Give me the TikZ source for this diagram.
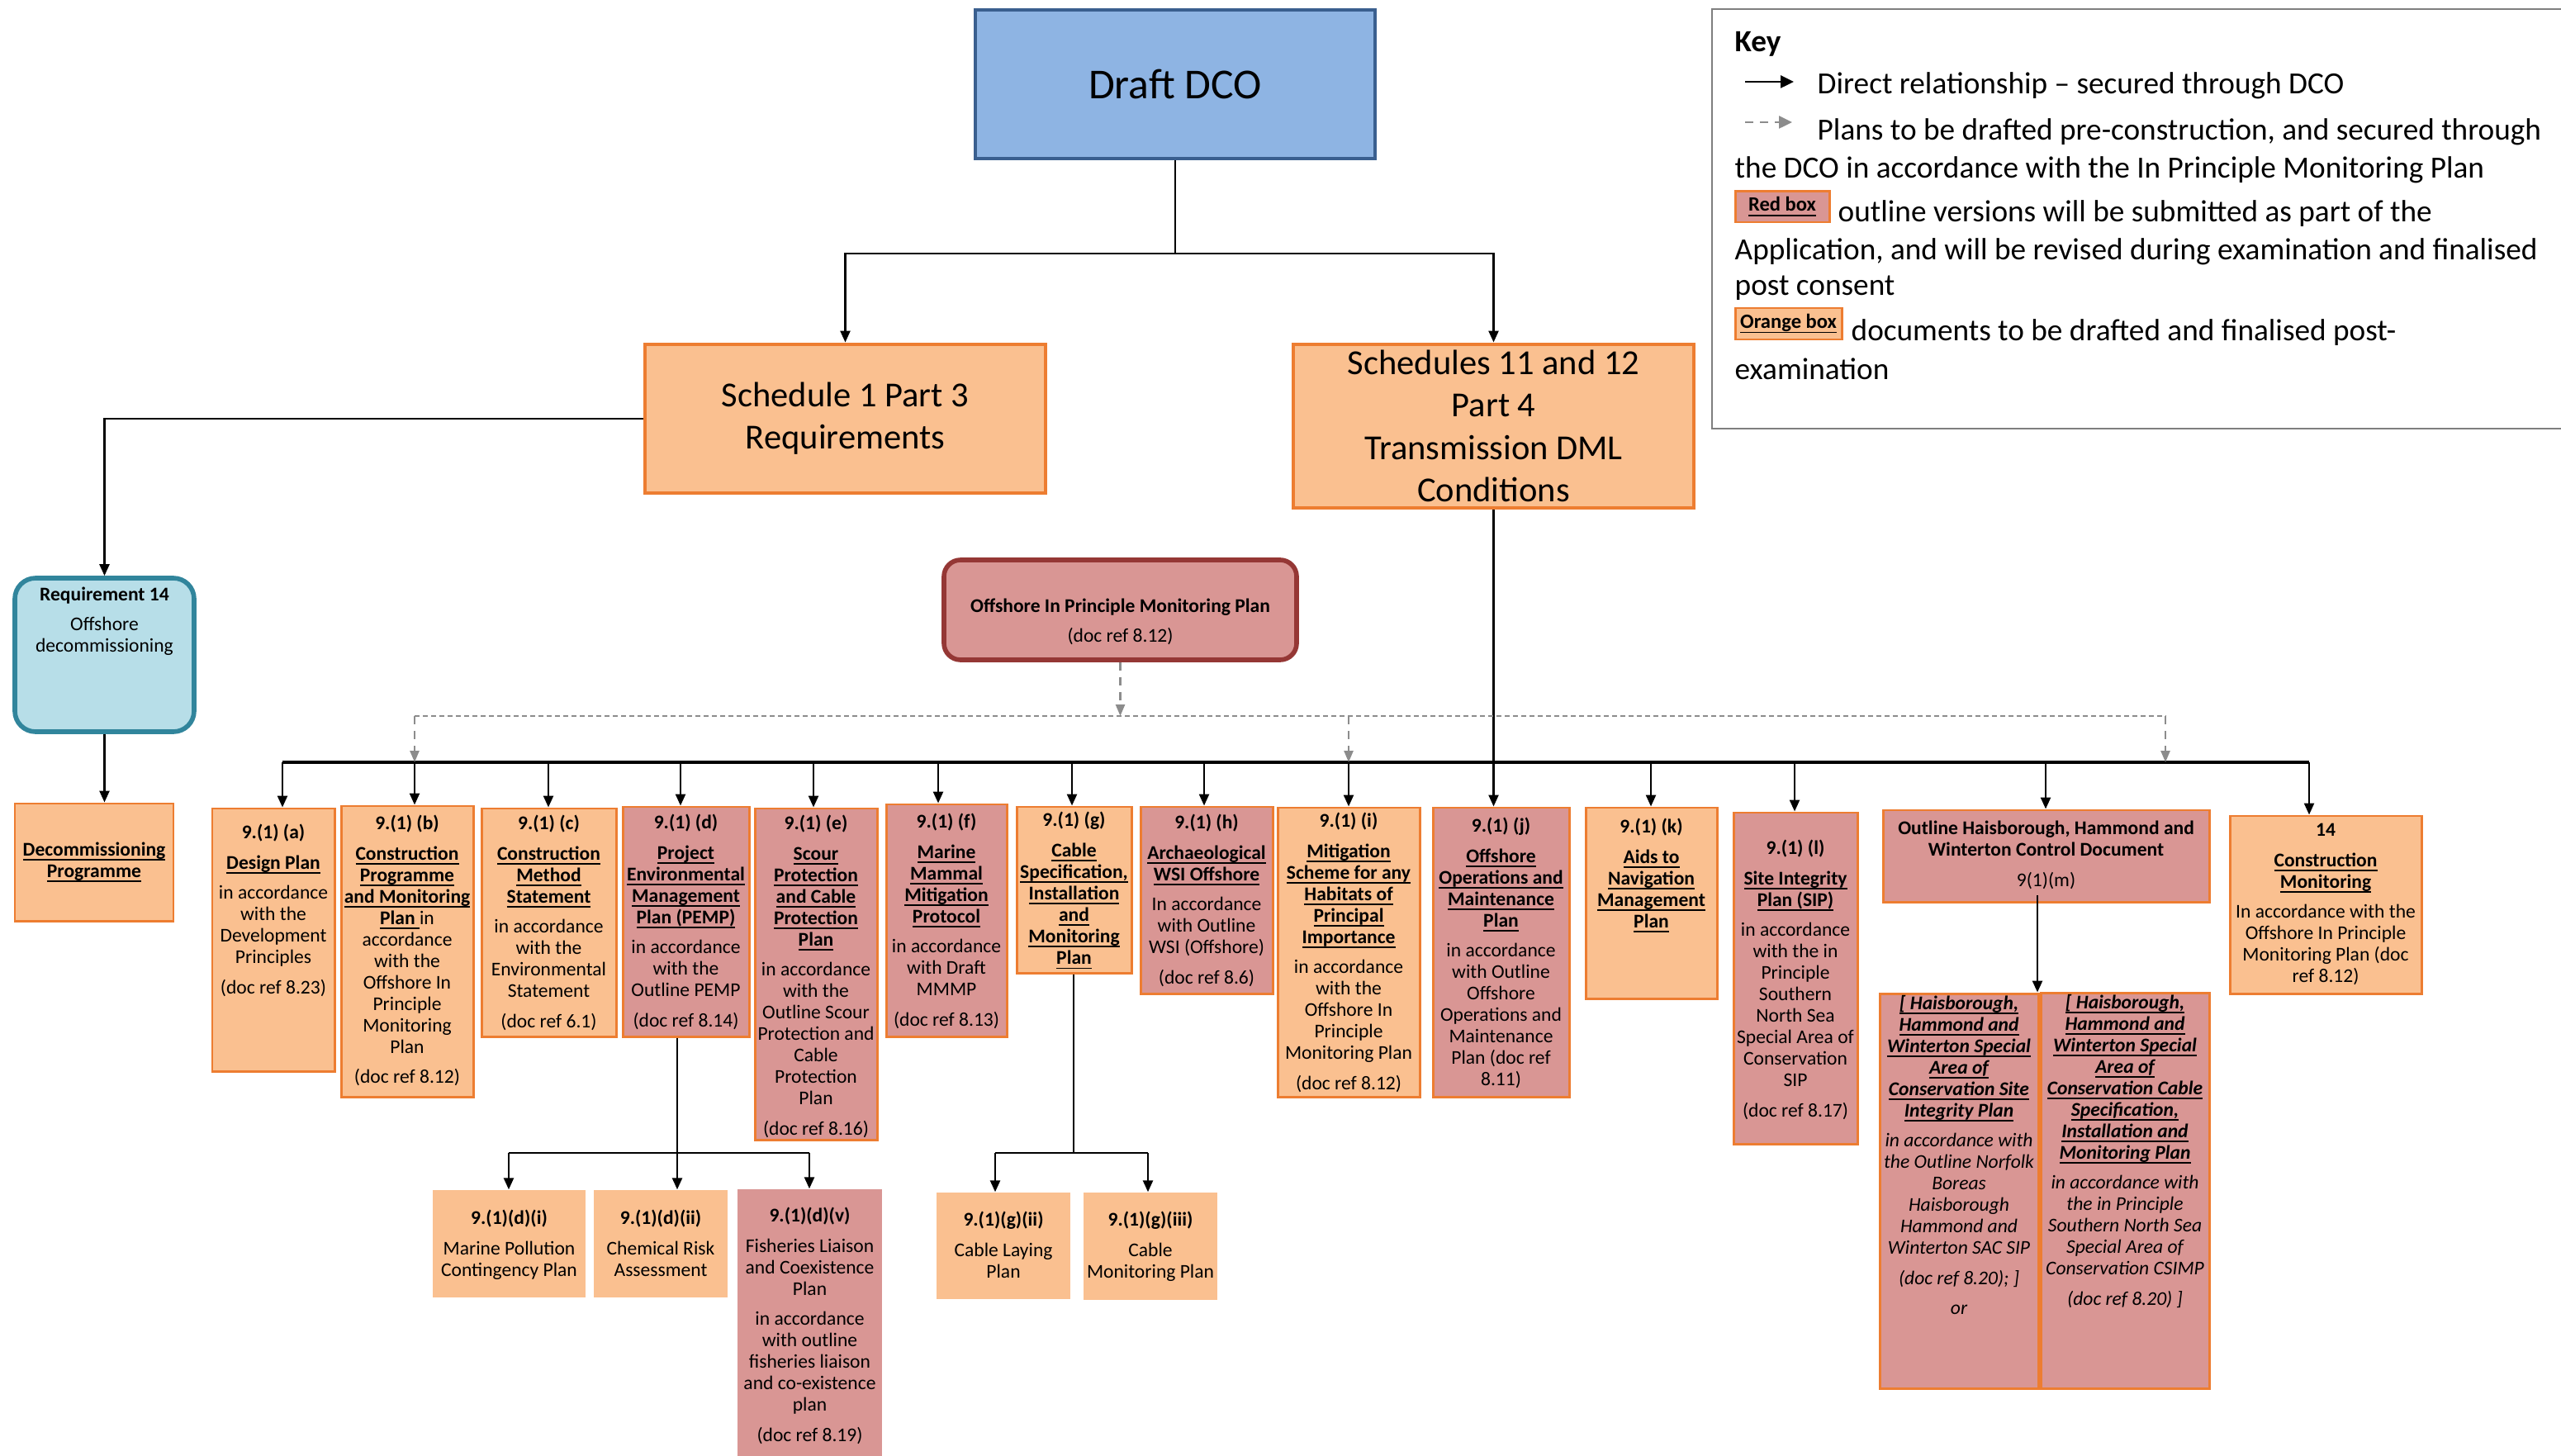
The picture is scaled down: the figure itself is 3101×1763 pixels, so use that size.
\documentclass[tikz,border=0pt]{standalone}
\usepackage{fontspec}
\setmainfont{Carlito}
\usetikzlibrary{positioning,fit,arrows.meta}

\definecolor{orangefill}{HTML}{FAC090}
\definecolor{redfill}{HTML}{D99694}
\definecolor{boxedge}{HTML}{ED7D31}
\definecolor{dcofill}{HTML}{8EB4E3}
\definecolor{dcoedge}{HTML}{3A5F8F}
\definecolor{reqfill}{HTML}{B7DEE8}
\definecolor{reqedge}{HTML}{31859C}
\definecolor{oipmpedge}{HTML}{953735}
\definecolor{dashgray}{HTML}{8C8C8C}
\definecolor{keyedge}{HTML}{7F7F7F}

\newcommand{\boxfont}{\fontsize{6.7}{7.4}\selectfont}
\newcommand{\keyfont}{\fontsize{10.6}{12.6}\selectfont}
\newcommand{\uln}[1]{\underline{\smash{#1}}}
\newcommand{\hd}[1]{\textbf{\uln{#1}}}

\tikzset{
  box/.style={inner sep=0pt, line width=0.85pt, draw=boxedge},
  obox/.style={box, fill=orangefill},
  rbox/.style={box, fill=redfill},
  osoft/.style={inner sep=0pt, fill=orangefill},
  rsoft/.style={inner sep=0pt, fill=redfill},
  bigbox/.style={inner sep=0pt, line width=1.4pt, draw=boxedge, fill=orangefill},
  bigtxt/.style={inner sep=0pt, align=center, font=\fontsize{12.1}{14.6}\selectfont},
  txt/.style={inner sep=0pt, align=center, font=\boxfont},
  itxt/.style={txt, font=\boxfont\itshape},
  keytxt/.style={inner sep=0pt, font=\keyfont},
  tagtxt/.style={inner sep=0pt, font=\fontsize{7}{8}\selectfont, yshift=-0.9mm},
  link/.style={line width=0.7pt},
  arr/.style={link, -{Triangle[length=1.4mm,width=1.2mm]}},
  dlink/.style={line width=0.7pt, dashgray, dash pattern=on 1mm off 0.8mm},
  darr/.style={dlink, -{Triangle[length=1.4mm,width=1.1mm]}},
}

\begin{document}
\begin{tikzpicture}[x=0.1mm, y=-0.1mm]

  \fill[white] (0,0) rectangle (3101,1763);
  \useasboundingbox (0,0) rectangle (3101,1763);

  % top of the tree
  \node[fit={(1181,12) (1665,192)}, inner sep=0pt, line width=1.2pt, draw=dcoedge,
        fill=dcofill] (dco) {};
  \node[inner sep=0pt, font=\fontsize{14.7}{17}\selectfont] (dco-t) at (dco) {Draft DCO};
  \node[bigbox, fit={(781,417) (1266,597)}] (sch1) {};
  \node[bigtxt] (sch1-t) at (sch1) {Schedule 1 Part 3\\Requirements};
  \node[bigbox, fit={(1566,417) (2051,615)}] (sch11) {};
  \node[bigtxt] (sch11-t) at (sch11) {Schedules 11 and 12\\Part 4\\Transmission DML\\Conditions};

  \node[fit={(18,700) (235,886)}, inner sep=0pt, rounded corners=2.5mm,
        line width=1.6pt, draw=reqedge, fill=reqfill] (req14) {};
  \node[txt, below=1.3mm of req14.north] (req14-t)
       {\textbf{Requirement 14}\\[3pt] Offshore\\decommissioning};
  \node[obox, fit={(18,973) (210,1115)}] (decom) {};
  \node[txt, below=6.4mm of decom.north] (decom-t) {\hd{Decommissioning}\\\hd{Programme}};

  \node[fit={(1143,678) (1570,799)}, inner sep=0pt, rounded corners=2mm,
        line width=1.6pt, draw=oipmpedge, fill=redfill] (oipmp) {};
  \node[txt, below=4.9mm of oipmp.north] (oipmp-t)
       {\textbf{Offshore In Principle Monitoring Plan}\\[3pt] (doc ref 8.12)};

  % plans under the bus
  \node[obox, fit={(257,979) (405,1297)}] (pa) {};
  \node[txt, below=2mm of pa.north] (pa-t) {\textbf{9.(1) (a)}\\[3pt] \hd{Design Plan}\\[3pt]
       in accordance\\with the\\Development\\Principles\\[3pt] (doc ref 8.23)};
  \node[obox, fit={(413,976) (573,1328)}] (pb) {};
  \node[txt, below=1.2mm of pb.north] (pb-t) {\textbf{9.(1) (b)}\\[3pt] \hd{Construction}\\
       \hd{Programme}\\\hd{and Monitoring}\\\textbf{\uln{Plan\ }}in\\accordance\\with the\\
       Offshore In\\Principle\\Monitoring\\Plan\\[3pt] (doc ref 8.12)};
  \node[obox, fit={(583,979) (746,1255)}] (pc) {};
  \node[txt, below=0.9mm of pc.north] (pc-t) {\textbf{9.(1) (c)}\\[3pt] \hd{Construction}\\
       \hd{Method}\\\hd{Statement}\\[3pt] in accordance\\with the\\Environmental\\Statement\\[3pt]
       (doc ref 6.1)};
  \node[rbox, fit={(754,977) (907,1255)}] (pd) {};
  \node[txt, below=1mm of pd.north] (pd-t) {\textbf{9.(1) (d)}\\[3pt] \hd{Project}\\
       \hd{Environmental}\\\hd{Management}\\\hd{Plan (PEMP)}\\[3pt] in accordance\\with the\\
       Outline PEMP\\[3pt] (doc ref 8.14)};
  \node[rbox, fit={(914,979) (1062,1380)}] (pe) {};
  \node[txt, below=0.9mm of pe.north] (pe-t) {\textbf{9.(1) (e)}\\[3pt] \hd{Scour}\\
       \hd{Protection}\\\hd{and Cable}\\\hd{Protection}\\\hd{Plan}\\[3pt] in accordance\\with the\\
       Outline Scour\\Protection and\\Cable\\Protection\\Plan\\[3pt] (doc ref 8.16)};
  \node[rbox, fit={(1073,974) (1219,1255)}] (pf) {};
  \node[txt, below=1.2mm of pf.north] (pf-t) {\textbf{9.(1) (f)}\\[3pt] \hd{Marine}\\
       \hd{Mammal}\\\hd{Mitigation}\\\hd{Protocol}\\[3pt] in accordance\\with Draft\\MMMP\\[3pt]
       (doc ref 8.13)};
  \node[obox, fit={(1231,977) (1370,1178)}] (pg) {};
  \node[txt, below=0.7mm of pg.north] (pg-t) {\textbf{9.(1) (g)}\\[3pt] \hd{Cable}\\
       \hd{Specification,}\\\hd{Installation}\\\hd{and}\\\hd{Monitoring}\\\hd{Plan}};
  \node[rbox, fit={(1381,977) (1541,1203)}] (ph) {};
  \node[txt, below=1mm of ph.north] (ph-t) {\textbf{9.(1) (h)}\\[3pt] \hd{Archaeological}\\
       \hd{WSI Offshore}\\[3pt] In accordance\\with Outline\\WSI (Offshore)\\[3pt] (doc ref 8.6)};
  \node[obox, fit={(1547,978) (1719,1328)}] (pi) {};
  \node[txt, below=0.7mm of pi.north] (pi-t) {\textbf{9.(1) (i)}\\[3pt] \hd{Mitigation}\\
       \hd{Scheme for any}\\\hd{Habitats of}\\\hd{Principal}\\\hd{Importance}\\[3pt]
       in accordance\\with the\\Offshore In\\Principle\\Monitoring Plan\\[3pt] (doc ref 8.12)};
  \node[rbox, fit={(1735,978) (1900,1328)}] (pj) {};
  \node[txt, below=1.3mm of pj.north] (pj-t) {\textbf{9.(1) (j)}\\[3pt] \hd{Offshore}\\
       \hd{Operations and}\\\hd{Maintenance}\\\hd{Plan}\\[3pt] in accordance\\with Outline\\
       Offshore\\Operations and\\Maintenance\\Plan (doc ref\\8.11)};
  \node[obox, fit={(1920,978) (2079,1209)}] (pk) {};
  \node[txt, below=1.4mm of pk.north] (pk-t) {\textbf{9.(1) (k)}\\[3pt] \hd{Aids to}\\
       \hd{Navigation}\\\hd{Management}\\\hd{Plan}};
  \node[rbox, fit={(2099,984) (2249,1385)}] (pl) {};
  \node[txt, below=3.4mm of pl.north] (pl-t) {\textbf{9.(1) (l)}\\[3pt] \hd{Site Integrity}\\
       \hd{Plan (SIP)}\\[3pt] in accordance\\with the in\\Principle\\Southern\\North Sea\\
       Special Area of\\Conservation\\SIP\\[3pt] (doc ref 8.17)};
  \node[rbox, fit={(2280,981) (2675,1092)}] (hhw) {};
  \node[txt, below=1.4mm of hhw.north] (hhw-t) {\textbf{Outline Haisborough, Hammond and}\\
       \textbf{Winterton Control Document}\\[3pt] 9(1)(m)};
  \node[obox, fit={(2700,988) (2932,1203)}] (p14) {};
  \node[txt, below=1mm of p14.north] (p14-t) {\textbf{14}\\[3pt] \hd{Construction}\\
       \hd{Monitoring}\\[3pt] In accordance with the\\Offshore In Principle\\
       Monitoring Plan (doc\\ref 8.12)};

  % Haisborough, Hammond and Winterton plans
  \node[rbox, fit={(2276,1203) (2468,1681)}] (sip) {};
  \node[itxt, below=2mm of sip.north] (sip-t) {\hd{[ Haisborough,}\\\hd{Hammond and}\\
       \hd{Winterton Special}\\\hd{Area of}\\\hd{Conservation Site}\\\hd{Integrity Plan}\\[3pt]
       in accordance with\\the Outline Norfolk\\Boreas\\Haisborough\\Hammond and\\
       Winterton SAC SIP\\[3pt] (doc ref 8.20); ]\\[3pt] or};
  \node[rbox, fit={(2471,1202) (2675,1681)}] (csimp) {};
  \node[itxt, below=2mm of csimp.north] (csimp-t) {\hd{[ Haisborough,}\\\hd{Hammond and}\\
       \hd{Winterton Special}\\\hd{Area of}\\\hd{Conservation Cable}\\\hd{Specification,}\\
       \hd{Installation and}\\\hd{Monitoring Plan}\\[3pt] in accordance with\\
       the in Principle\\Southern North Sea\\Special Area of\\Conservation CSIMP\\[3pt]
       (doc ref 8.20) ]};

  % sub-plans
  \node[osoft, fit={(524,1441) (709,1571)}] (di) {};
  \node[txt, below=2.4mm of di.north] (di-t) {\textbf{9.(1)(d)(i)}\\[3pt] Marine Pollution\\
       Contingency Plan};
  \node[osoft, fit={(719,1441) (881,1571)}] (dii) {};
  \node[txt, below=2.4mm of dii.north] (dii-t) {\textbf{9.(1)(d)(ii)}\\[3pt] Chemical Risk\\
       Assessment};
  \node[rsoft, fit={(893,1440) (1068,1770)}] (dv) {};
  \node[txt, below=2.2mm of dv.north] (dv-t) {\textbf{9.(1)(d)(v)}\\[3pt] Fisheries Liaison\\
       and Coexistence\\Plan\\[3pt] in accordance\\with outline\\fisheries liaison\\
       and co-existence\\plan\\[3pt] (doc ref 8.19)};
  \node[osoft, fit={(1134,1444) (1296,1573)}] (gii) {};
  \node[txt, below=2.3mm of gii.north] (gii-t) {\textbf{9.(1)(g)(ii)}\\[3pt] Cable Laying\\Plan};
  \node[osoft, fit={(1312,1444) (1474,1574)}] (giii) {};
  \node[txt, below=2.3mm of giii.north] (giii-t) {\textbf{9.(1)(g)(iii)}\\[3pt] Cable\\
       Monitoring Plan};

  % direct links
  \draw[arr] (dco.south) -- ++(0,113) -| (sch1);
  \draw[arr] (dco.south) -- ++(0,113) -| (sch11);
  \draw[arr] (sch1.west) -| (req14);
  \draw[arr] (req14) -- (req14 |- decom.north);

  \coordinate (bus-w) at (342,923);
  \coordinate (bus-e) at (2796,923);
  \draw[link, line width=0.9pt] (bus-w) -- (bus-e);
  \foreach \x/\b in {342/pa, 502/pb, 664/pc, 824/pd, 985/pe, 1136/pf, 1298/pg, 1458/ph,
                     1633/pi, 1999/pk, 2173/pl, 2477/hhw, 2796/p14} {
    \coordinate (tap) at (\x,923);
    \draw[arr] (tap) -- (tap |- \b.north);
  }
  \draw[arr] (sch11) -- (sch11 |- pj.north);

  % plans through the in principle monitoring plan
  \coordinate (dash-w) at (502,867);
  \coordinate (dash-e) at (2622,867);
  \draw[dlink, dash pattern=on 0.6mm off 0.4mm] (dash-w) -- (dash-e);
  \draw[darr] (oipmp) -- (oipmp |- dash-w);
  \foreach \x in {502, 1633, 2622} {
    \coordinate (dtap) at (\x,867);
    \draw[darr] (dtap) -- (dtap |- bus-w);
  }

  % PEMP branch
  \coordinate (d-fork) at (820,1396);
  \coordinate (di-tap) at (616,1396);
  \coordinate (dv-tap) at (980,1396);
  \draw[link] (pd.south -| d-fork) -- (d-fork);
  \draw[link] (di-tap) -- (dv-tap);
  \draw[arr] (di-tap) -- (di-tap |- di.north);
  \draw[arr] (d-fork) -- (d-fork |- dii.north);
  \draw[arr] (dv-tap) -- (dv-tap |- dv.north);

  % cable branch
  \coordinate (g-fork) at (1300,1396);
  \coordinate (gii-tap) at (1205,1396);
  \coordinate (giii-tap) at (1390,1396);
  \draw[link] (pg.south -| g-fork) -- (g-fork);
  \draw[link] (gii-tap) -- (giii-tap);
  \draw[arr] (gii-tap) -- (gii-tap |- gii.north);
  \draw[arr] (giii-tap) -- (giii-tap |- giii.north);

  \coordinate (hhw-tap) at (2467,1084);
  \draw[arr] (hhw-tap) -- (hhw-tap |- sip.north);

  % key
  \draw[keyedge, line width=0.8pt] (3101,11) -| (2073,519) -- (3101,519);
  \node[keytxt, anchor=west] (key-title) at (2100,53) {\textbf{Key}};
  \coordinate (key-s1) at (2113,99);
  \coordinate (key-s2) at (2172,99);
  \draw[arr, -{Triangle[length=1.6mm,width=1.5mm]}] (key-s1) -- (key-s2);
  \node[keytxt, anchor=west] (key-direct) at (2200,104) {Direct relationship – secured through DCO};
  \coordinate (key-d1) at (2113,148);
  \coordinate (key-d2) at (2170,148);
  \draw[darr, -{Triangle[length=1.6mm,width=1.5mm]}] (key-d1) -- (key-d2);
  \node[keytxt, anchor=west] (key-plans) at (2200,160)
       {Plans to be drafted pre-construction, and secured through};
  \node[keytxt, anchor=west] (key-plans2) at (2100,206)
       {the DCO in accordance with the In Principle Monitoring Plan};
  \node[rbox, fit={(2101,232) (2215,269)}] (key-red) {};
  \node[tagtxt] (key-red-tag) at (key-red) {\hd{Red box}};
  \node[keytxt, anchor=west] (key-red-t) at (2225,259) {outline versions will be submitted as part of the};
  \node[keytxt, anchor=west] (key-red-t2) at (2100,305)
       {Application, and will be revised during examination and finalised};
  \node[keytxt, anchor=west] (key-red-t3) at (2100,349) {post consent};
  \node[obox, fit={(2101,373) (2230,411)}] (key-orange) {};
  \node[tagtxt] (key-orange-tag) at (key-orange) {\hd{Orange box}};
  \node[keytxt, anchor=west] (key-orange-t) at (2241,403) {documents to be drafted and finalised post-};
  \node[keytxt, anchor=west] (key-orange-t2) at (2100,447) {examination};

\end{tikzpicture}
\end{document}
